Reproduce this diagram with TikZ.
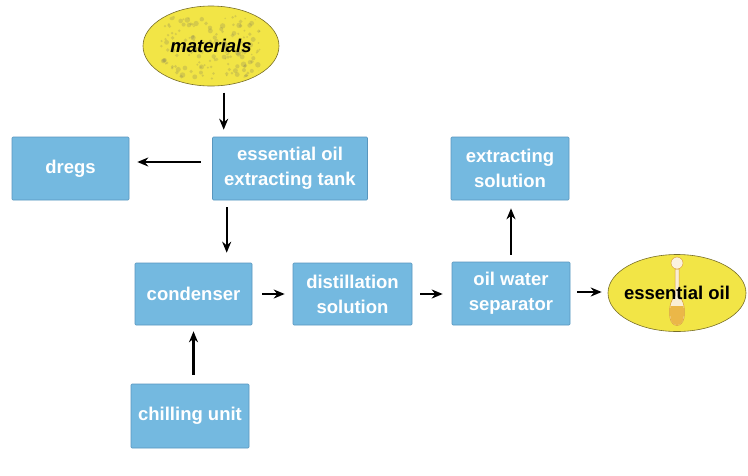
\documentclass[tikz,border=0pt]{standalone}
\usepackage{fontspec}
\setmainfont{Liberation Sans}
\usetikzlibrary{arrows.meta,shapes.geometric}
\definecolor{boxblue}{RGB}{116,185,224}
\definecolor{boxedge}{RGB}{88,150,190}
\definecolor{ovalyellow}{RGB}{242,229,70}
\definecolor{ovaledge}{RGB}{120,110,40}
\definecolor{oilgold}{RGB}{232,170,40}
\definecolor{herb}{RGB}{140,135,90}
\tikzset{
  stepbox/.style={rectangle, fill=boxblue, draw=boxedge, line width=0.6pt,
    text=white, font=\fontsize{18.5}{25}\selectfont\bfseries, align=center,
    inner sep=0pt, rounded corners=1pt},
  oval/.style={ellipse, fill=ovalyellow, draw=ovaledge, line width=0.6pt,
    inner sep=0pt, font=\fontsize{18.5}{25}\selectfont\bfseries, text=black},
  arr/.style={-{Stealth[length=11pt,width=9pt]}, line width=2.2pt, black},
}
\begin{document}
\begin{tikzpicture}[x=1pt,y=-1pt]
\useasboundingbox (0,0) rectangle (748,475);
\fill[white] (0,0) rectangle (748,475);

\node[oval, minimum width=136pt, minimum height=80pt] (mat) at (211,46) {};
% herb texture inside the materials oval
\begin{scope}
  \clip (211,46) ellipse (64pt and 37pt);
  \pgfmathsetseed{11}
  \foreach \i in {1,...,160} {
    \pgfmathsetmacro{\px}{211+50*rand}
    \pgfmathsetmacro{\py}{48+32*rand}
    \pgfmathsetmacro{\pr}{0.8+2*rnd}
    \fill[herb, opacity=0.28] (\px,\py) circle (\pr pt);
  }
\end{scope}
\node[font=\fontsize{18.5}{25}\selectfont\bfseries\itshape, text=black] (mattext) at (mat.center) {materials};

\node[stepbox, minimum width=117pt, minimum height=63pt] (dregs) at (70.5,168.5) {dregs};
\node[stepbox, minimum width=155pt, minimum height=63pt] (tank) at (290,168.5) {essential oil\\extracting tank};
\node[stepbox, minimum width=118pt, minimum height=63pt] (extr) at (510,168.5) {extracting\\solution};
\node[stepbox, minimum width=117pt, minimum height=62pt] (cond) at (193.5,294) {condenser};
\node[stepbox, minimum width=119pt, minimum height=62pt] (dist) at (352.5,294) {distillation\\solution};
\node[stepbox, minimum width=118pt, minimum height=63pt] (sep) at (511,293.5) {oil water\\separator};
\node[stepbox, minimum width=118pt, minimum height=64pt] (chill) at (190,416) {chilling unit};
\node[oval, minimum width=138pt, minimum height=77pt] (oil) at (677,293) {};
% bottle inside the essential oil oval
\begin{scope}
  \fill[white!80!oilgold, draw=oilgold!60!brown, line width=0.5pt]
    (675,269) -- (675,296) .. controls (669,302) and (669,312) .. (670,318)
    .. controls (672,328) and (682,328) .. (684,318)
    .. controls (685,312) and (685,302) .. (679,296) -- (679,269) -- cycle;
  \fill[oilgold!85!white] (670.5,306) .. controls (669.5,312) and (670,316) .. (671,320)
    .. controls (673,327) and (681,327) .. (683,320)
    .. controls (684,316) and (684.5,312) .. (683.5,306) -- cycle;
  \fill[white!85!oilgold, draw=oilgold!60!brown, line width=0.4pt] (677,263) circle (6pt);
\end{scope}
\node[font=\fontsize{18.5}{25}\selectfont\bfseries, text=black] (oiltext) at (oil.center) {essential oil};

\draw[arr] ([xshift=11.5pt,yshift=44pt]tank.north west) -- ([xshift=11.5pt,yshift=7pt]tank.north west);
\draw[arr, shorten <=11.5pt, shorten >=8pt] ([yshift=6.5pt]tank.west) -- ([yshift=6.5pt]tank.west -| dregs.east);
\draw[arr, shorten <=7pt, shorten >=10pt] ([xshift=14.5pt]tank.south west) -- ([xshift=14.5pt]tank.south west |- cond.north);
\draw[arr, shorten <=10pt, shorten >=8pt] (cond.east) -- (cond.east -| dist.west);
\draw[arr, shorten <=8pt, shorten >=9pt] (dist.east) -- (dist.east -| sep.west);
\draw[arr, shorten <=7pt, shorten >=6pt] ([yshift=1.5pt]sep.east) -- ([yshift=1.5pt]sep.east -| oil.west);
\draw[arr, shorten <=7pt, shorten >=8pt] (sep.north) -- (sep.north |- extr.south);
\draw[arr, shorten <=9pt, shorten >=6pt] (chill.north -| cond.south) -- (cond.south);
\end{tikzpicture}
\end{document}
